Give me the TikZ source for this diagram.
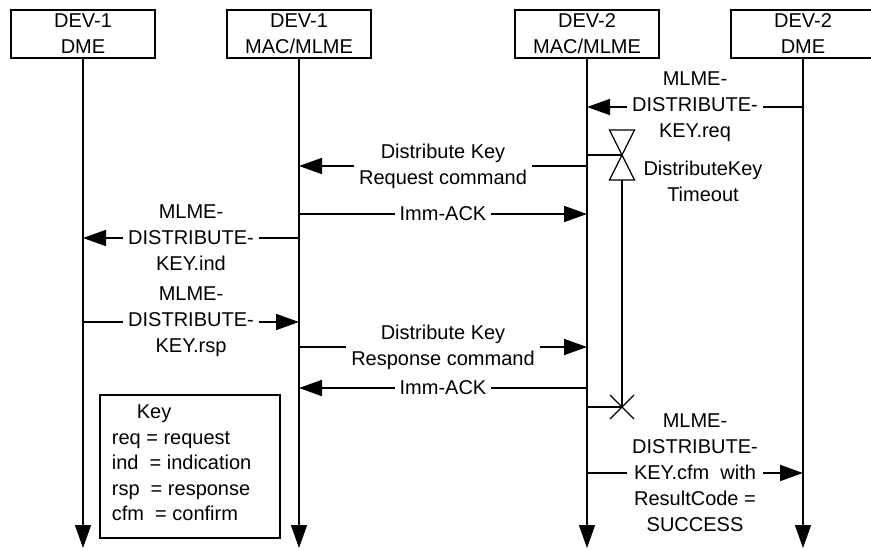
\documentclass[tikz,border=0pt]{standalone}
\usepackage{fontspec}
\setmainfont{Liberation Sans}
\usetikzlibrary{arrows.meta}
\begin{document}
\begin{tikzpicture}[x=1pt,y=-1pt,line width=1.7pt,
  font=\fontsize{20}{26}\selectfont,
  ent/.style={draw,minimum width=144pt,minimum height=48pt,align=center,inner sep=0pt},
  msg/.style={-{Triangle[length=23pt,width=16pt]}},
  lbl/.style={fill=white,align=center,inner sep=5pt}]
\useasboundingbox (0,0) rectangle (871,550);
% entities and life lines
\node[ent] (d1dme) at (83,34) {DEV-1\\DME};
\node[ent] (d1mac) at (299,34) {DEV-1\\MAC/MLME};
\node[ent] (d2mac) at (587,34) {DEV-2\\MAC/MLME};
\node[ent] (d2dme) at (803,34) {DEV-2\\DME};
\foreach \n in {d1dme,d1mac,d2mac,d2dme}
  \draw[msg] (\n) -- (\n |- 0,548);
% messages
\draw[msg] (d2dme |- 0,107) -- (d2mac |- 0,107) node[lbl,midway] (req) {MLME-\\DISTRIBUTE-\\KEY.req};
\draw[msg] (d2mac |- 0,166) -- (d1mac |- 0,166) node[lbl,midway] (reqcmd) {Distribute Key\\Request command};
\draw[msg] (d1mac |- 0,214) -- (d2mac |- 0,214) node[lbl,midway] (ack1) {Imm-ACK};
\draw[msg] (d1mac |- 0,238) -- (d1dme |- 0,238) node[lbl,midway] (ind) {MLME-\\DISTRIBUTE-\\KEY.ind};
\draw[msg] (d1dme |- 0,322) -- (d1mac |- 0,322) node[lbl,midway] (rsp) {MLME-\\DISTRIBUTE-\\KEY.rsp};
\draw[msg] (d1mac |- 0,347) -- (d2mac |- 0,347) node[lbl,midway] (rspcmd) {Distribute Key\\Response command};
\draw[msg] (d2mac |- 0,388) -- (d1mac |- 0,388) node[lbl,midway] (ack2) {Imm-ACK};
\draw[msg] (d2mac |- 0,473) -- (d2dme |- 0,473) node[lbl,midway] (cfm) {MLME-\\DISTRIBUTE-\\KEY.cfm~ with\\ResultCode =\\SUCCESS};
% timer
\coordinate (tstart) at (622,155);
\coordinate (tend) at (622,407);
\draw (d2mac |- tstart) -- (tstart);
\draw[line width=1.3pt,fill=white] (tstart) -- ++(-12.5,-25) -- ++(25,0) -- cycle;
\draw[line width=1.3pt,fill=white] (tstart) -- ++(-12.5,25) -- ++(25,0) -- cycle;
\draw (622,180) -- (tend);
\draw (d2mac |- tend) -- (tend);
\draw[line width=1.3pt] (tend) ++(-12,-12) -- ++(24,24) (tend) ++(-12,12) -- ++(24,-24);
\node[align=center] (tlabel) at (703,181) {DistributeKey\\Timeout};
% key
\node[draw,minimum width=180pt,minimum height=143pt] (keybox) at (190,466.5) {};
\node[anchor=north west,align=left,inner sep=0pt,font=\fontsize{20}{25.5}\selectfont] (keytext) at (111,404)
  {\hspace{25pt}Key\\req = request\\ind~ = indication\\rsp~ = response\\cfm~ = confirm};
\end{tikzpicture}
\end{document}
